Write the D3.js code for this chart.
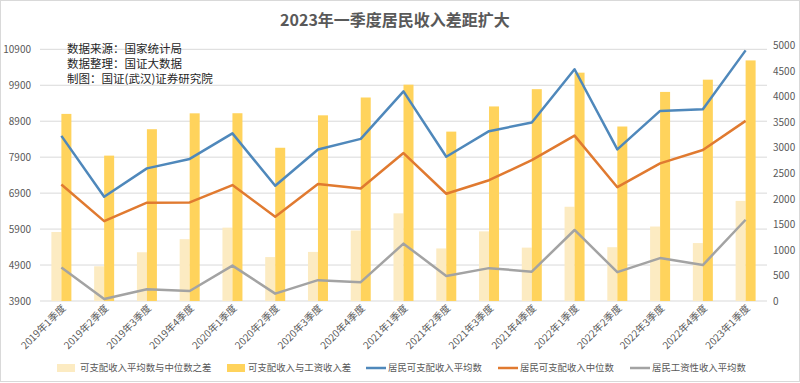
<!DOCTYPE html>
<html>
<head>
<meta charset="utf-8">
<script src="https://cdn.jsdelivr.net/npm/d3@7"></script>
<style>
  html, body { margin: 0; padding: 0; background: #fff; }
  svg { display: block; }
  text { font-family: "Noto Sans CJK SC", "Noto Sans", sans-serif; }
</style>
</head>
<body>
<svg id="chart" width="800" height="383"></svg>
<script>
const categories = ["2019年1季度","2019年2季度","2019年3季度","2019年4季度",
  "2020年1季度","2020年2季度","2020年3季度","2020年4季度",
  "2021年1季度","2021年2季度","2021年3季度","2021年4季度",
  "2022年1季度","2022年2季度","2022年3季度","2022年4季度","2023年1季度"];
// 居民可支配收入平均数 (left axis)
const meanIncome   = [8493,6801,7588,7851,8561,7105,8115,8408,9730,7912,8623,8863,10345,8118,9187,9233,10870];
// 居民可支配收入中位数 (left axis)
const medianIncome = [7142,6121,6634,6641,7125,6245,7154,7028,8014,6883,7260,7818,8500,7065,7729,8099,8910];
// 居民工资性收入平均数 (left axis)
const wageIncome   = [4830,3955,4225,4177,4885,4105,4480,4424,5495,4596,4814,4716,5875,4702,5094,4900,6160];
// 可支配收入平均数与中位数之差 (right axis)
const meanMedianGap = [1351,680,954,1210,1436,860,961,1380,1716,1029,1363,1045,1845,1053,1458,1134,1960];
// 可支配收入与工资收入差 (right axis)
const incomeWageGap = [3663,2846,3363,3674,3676,3000,3635,3984,4235,3316,3809,4147,4470,3416,4093,4333,4710];
const leftTicks  = [3900,4900,5900,6900,7900,8900,9900,10900];
const rightTicks = [0,500,1000,1500,2000,2500,3000,3500,4000,4500,5000];
const seriesNames = ["可支配收入平均数与中位数之差","可支配收入与工资收入差","居民可支配收入平均数","居民可支配收入中位数","居民工资性收入平均数"];
const title = "2023年一季度居民收入差距扩大";
const notes = ["数据来源：国家统计局","数据整理：国证大数据","制图：国证(武汉)证券研究院"];

const colors = {
  light: "#fcebc2", dark: "#ffd35c",
  mean: "#4f88bb", median: "#e07a30", wage: "#a3a3a3",
  axisText: "#595959", grid: "#d9d9d9"
};

const svg = d3.select("#chart");
const W = 800, H = 383;

// chart border
svg.append("rect").attr("x",0.5).attr("y",0.5).attr("width",W-1).attr("height",H-2)
  .attr("fill","#fff").attr("stroke","#d9d9d9");

const plot = {left: 40, right: 767, top: 45.6, bottom: 301};

const x = d3.scaleBand().domain(categories).range([plot.left, plot.right]).padding(0);
const yL = d3.scaleLinear().domain([3900, 10900]).range([plot.bottom, 49.3]);
const yR = d3.scaleLinear().domain([0, 5000]).range([plot.bottom, plot.top]);

// gridlines
svg.append("g").selectAll("line").data(leftTicks).join("line")
  .attr("x1", plot.left).attr("x2", plot.right)
  .attr("y1", d => yL(d)).attr("y2", d => yL(d))
  .attr("stroke", colors.grid).attr("stroke-width", 1);

// left axis labels
const axL = d3.axisLeft(yL).tickValues(leftTicks).tickSize(0).tickPadding(0).tickFormat(d3.format("d"));
const gL = svg.append("g").attr("transform", "translate(31,0)").call(axL);
gL.select(".domain").remove();
gL.selectAll("text").attr("fill", colors.axisText).style("font-size","10px");

// right axis labels
const axR = d3.axisRight(yR).tickValues(rightTicks).tickSize(0).tickPadding(0).tickFormat(d3.format("d"));
const gR = svg.append("g").attr("transform", "translate(773,0)").call(axR);
gR.select(".domain").remove();
gR.selectAll("text").attr("fill", colors.axisText).style("font-size","10px");

// bars
const bw = 10;
svg.append("g").selectAll("rect").data(meanMedianGap).join("rect")
  .attr("x", (d,i) => x(categories[i]) + x.bandwidth()/2 - bw)
  .attr("width", bw)
  .attr("y", d => yR(d)).attr("height", d => yR(0) - yR(d))
  .attr("fill", colors.light);
svg.append("g").selectAll("rect").data(incomeWageGap).join("rect")
  .attr("x", (d,i) => x(categories[i]) + x.bandwidth()/2)
  .attr("width", bw)
  .attr("y", d => yR(d)).attr("height", d => yR(0) - yR(d))
  .attr("fill", colors.dark);

// lines
const cx = i => x(categories[i]) + x.bandwidth()/2;
const line = d3.line().x((d,i) => cx(i)).y(d => yL(d));
[[wageIncome, colors.wage],[medianIncome, colors.median],[meanIncome, colors.mean]].forEach(([data, c]) => {
  svg.append("path").datum(data).attr("d", line)
    .attr("fill","none").attr("stroke", c).attr("stroke-width", 2.5)
    .attr("stroke-linejoin","round");
});

// x-axis labels
svg.append("g").selectAll("text").data(categories).join("text")
  .attr("transform", (d,i) => `translate(${cx(i)+3},${307}) rotate(-45)`)
  .attr("text-anchor","end").attr("dominant-baseline","middle")
  .attr("fill", colors.axisText).style("font-size","10px")
  .text(d => d);

// title
svg.append("text").attr("x", 395).attr("y", 26).attr("text-anchor","middle")
  .attr("fill","#595959").style("font-size","16px").style("font-weight","bold")
  .text(title);

// notes (one text block with three lines)
const nt = svg.append("text").attr("x", 67).attr("y", 53)
  .attr("fill","#262626").style("font-size","11.5px");
nt.selectAll("tspan").data(notes).join("tspan")
  .attr("x", 67).attr("dy", (d,i) => i === 0 ? 0 : 15)
  .text(d => d);

// legend
const legendY = 368;
const legendItems = [
  {name: seriesNames[0], type:"bar", color: colors.light, sx: 57, tx: 80},
  {name: seriesNames[1], type:"bar", color: colors.dark, sx: 227, tx: 248},
  {name: seriesNames[2], type:"line", color: colors.mean, sx: 366, tx: 388},
  {name: seriesNames[3], type:"line", color: colors.median, sx: 498, tx: 520},
  {name: seriesNames[4], type:"line", color: colors.wage, sx: 630, tx: 652}
];
const lg = svg.append("g");
legendItems.forEach(it => {
  if (it.type === "bar") {
    lg.append("rect").attr("x", it.sx).attr("y", legendY-4).attr("width", 18).attr("height", 8).attr("fill", it.color);
  } else {
    lg.append("line").attr("x1", it.sx).attr("x2", it.sx+20).attr("y1", legendY).attr("y2", legendY)
      .attr("stroke", it.color).attr("stroke-width", 2.5);
  }
  lg.append("text").attr("x", it.tx).attr("y", legendY).attr("dominant-baseline","middle")
    .attr("fill", colors.axisText).style("font-size","9.4px").text(it.name);
});
</script>
</body>
</html>
